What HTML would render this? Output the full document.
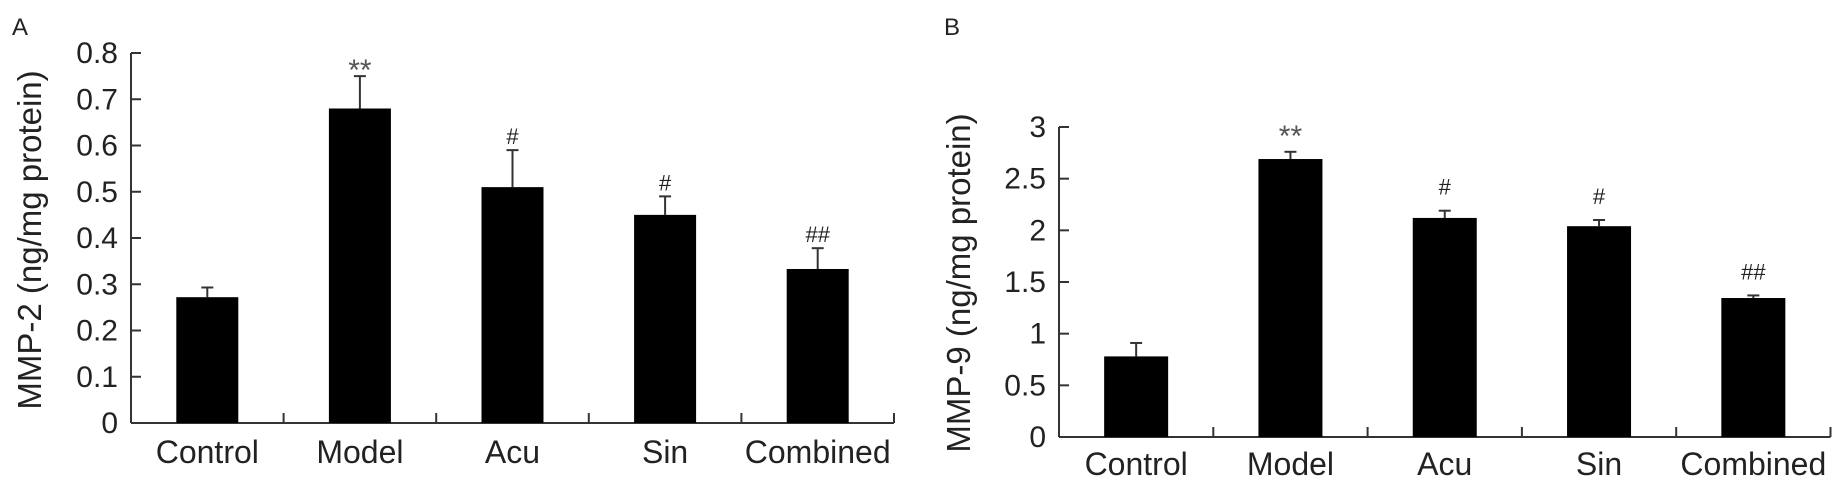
<!DOCTYPE html>
<html><head><meta charset="utf-8"><style>
html,body{margin:0;padding:0;background:#fff;}
svg{display:block;font-family:"Liberation Sans",sans-serif;}
</style></head><body>
<svg id="chart" width="1844" height="489" viewBox="0 0 1844 489" xmlns="http://www.w3.org/2000/svg"></svg>
<script>
const categories = ["Control","Model","Acu","Sin","Combined"];
const mmp2Values = [0.272, 0.68, 0.51, 0.45, 0.333];
const mmp2ErrTops = [0.293, 0.75, 0.59, 0.49, 0.378];
const mmp2Marks = ["", "**", "#", "#", "##"];
const mmp2Ticks = ["0","0.1","0.2","0.3","0.4","0.5","0.6","0.7","0.8"];
const mmp9Values = [0.78, 2.69, 2.12, 2.04, 1.345];
const mmp9ErrTops = [0.91, 2.76, 2.19, 2.10, 1.37];
const mmp9Marks = ["", "**", "#", "#", "##"];
const mmp9Ticks = ["0","0.5","1","1.5","2","2.5","3"];

const NS = "http://www.w3.org/2000/svg";
const svg = document.getElementById("chart");
function mk(tag, attrs, parent){
  const e = document.createElementNS(NS, tag);
  for (const k in attrs) e.setAttribute(k, attrs[k]);
  (parent||svg).appendChild(e);
  return e;
}

function panel(cfg){
  const g = mk("g", {});
  
  
  const yScale = v => cfg.y0 - (v - 0) / cfg.yMax * (cfg.y0 - cfg.yTop);
  const step = cfg.step;
  const xCenter = i => cfg.x0 + step * (i + 0.5);
  // axes
  const ya = mk("line", {x1:cfg.x0, y1:cfg.yTop, x2:cfg.x0, y2:cfg.y0, stroke:"#333", "stroke-width":2}, g);
  
  
  const xa = mk("line", {x1:cfg.x0, y1:cfg.y0, x2:cfg.x0 + step*categories.length, y2:cfg.y0, stroke:"#333", "stroke-width":2}, g);
  
  
  // y ticks
  cfg.ticks.forEach((t) => {
    const v = parseFloat(t);
    const y = yScale(v);
    const tl = mk("line", {x1:cfg.x0, y1:y, x2:cfg.x0+10, y2:y, stroke:"#333", "stroke-width":2}, g);
    
    
    const tx = mk("text", {x:cfg.x0-13, y:y+10, "text-anchor":"end", "font-size":30, fill:"#222"}, g);
    tx.textContent = t;
    
    
  });
  // x category ticks
  for (let i = 1; i <= categories.length; i++){
    const x = cfg.x0 + step*i;
    const tl = mk("line", {x1:x, y1:cfg.y0, x2:x, y2:cfg.y0-10, stroke:"#333", "stroke-width":2}, g);
    
    
  }
  // bars
  categories.forEach((c, i) => {
    const cx = xCenter(i);
    const top = yScale(cfg.values[i]);
    const et = yScale(cfg.errs[i]);
    const el = mk("line", {x1:cx, y1:top, x2:cx, y2:et, stroke:"#333", "stroke-width":2}, g);
    
    
    const ec = mk("line", {x1:cx-6, y1:et, x2:cx+6, y2:et, stroke:"#333", "stroke-width":2}, g);
    
    
    const r = mk("rect", {x:cx - cfg.barW/2, y:top, width:cfg.barW, height:cfg.y0 - top, fill:"#000"}, g);
    
    
    const lab = mk("text", {x:cx, y:cfg.labelY, "text-anchor":"middle", "font-size":32, fill:"#222"}, g);
    lab.textContent = c;
    
    
    const m = cfg.marks[i];
    if (m){
      const isStar = m.indexOf("*") >= 0;
      const a = mk("text", {x:cx, y: isStar ? et - cfg.gap + 10 : et - cfg.gap, "text-anchor":"middle", "font-size": isStar ? 30 : 22, fill: isStar ? "#555" : "#222"}, g);
      a.textContent = m;
      
      
    }
  });
  // y title
  const tt = mk("text", {x:0, y:0, transform:`translate(${cfg.titleX},${cfg.titleY}) rotate(-90)`, "text-anchor":"middle", "font-size":33, fill:"#222"}, g);
  tt.textContent = cfg.title;
  
  
  const pl = mk("text", {x:cfg.letterX, y:35, "font-size":24, fill:"#222"}, g);
  pl.textContent = cfg.letter;
  
  
}

panel({id:"mmp2", x0:131, y0:423, yTop:53, yMax:0.8, step:152.6, barW:62,
  values:mmp2Values, errs:mmp2ErrTops, marks:mmp2Marks, ticks:mmp2Ticks,
  labelY:463, gap:6, title:"MMP-2 (ng/mg protein)", titleX:41, titleY:240, letter:"A", letterX:12});
panel({id:"mmp9", x0:1059, y0:437, yTop:127, yMax:3, step:154.3, barW:64,
  values:mmp9Values, errs:mmp9ErrTops, marks:mmp9Marks, ticks:mmp9Ticks,
  labelY:475, gap:16, title:"MMP-9 (ng/mg protein)", titleX:970, titleY:283, letter:"B", letterX:944});
</script>
</body></html>
